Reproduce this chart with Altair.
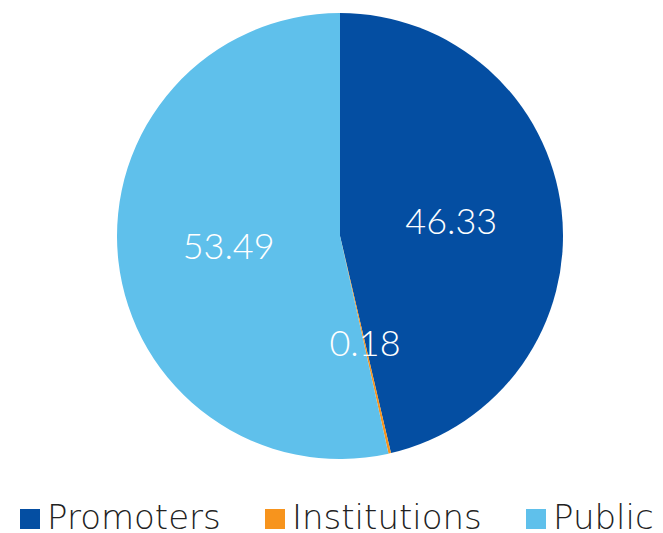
import altair as alt
import pandas as pd

categories = ["Promoters", "Institutions", "Public"]
values = [46.33, 0.18, 53.49]
labels = ["46.33", "0.18", "53.49"]
colors = ["#044EA2", "#F7941D", "#5FC0EB"]

df = pd.DataFrame({"cat": categories, "val": values, "lab": labels, "ord": [0, 1, 2]})

base = alt.Chart(df).encode(
    theta=alt.Theta("val:Q", stack=True),
    order=alt.Order("ord:Q"),
)

arc = base.mark_arc(radius=223, stroke=None).encode(
    color=alt.Color(
        "cat:N",
        scale=alt.Scale(domain=categories, range=colors),
        sort=categories,
        legend=alt.Legend(
            title=None,
            orient="none",
            legendX=-27,
            legendY=494,
            direction="horizontal",
            symbolType="square",
            symbolSize=400,
            symbolStrokeWidth=0,
            symbolOpacity=1,
            labelFont="DejaVu Sans",
            labelFontWeight=200,
            labelFontSize=34,
            labelColor="#222222",
            labelLimit=300,
            columnPadding=37,
            symbolOffset=0,
            labelOffset=0,
        ),
    )
)

text = base.mark_text(
    radius=112, font="Lato", fontWeight=300, fontSize=36, color="white",
    align="center", baseline="middle",
).encode(text="lab:N")

chart = (arc + text).properties(
    width=600, height=456,
    padding={"left": 5, "top": 0, "right": 0, "bottom": 0},
).configure_view(stroke=None)

chart.save("out.html", embed_options={"renderer": "svg", "actions": False})
